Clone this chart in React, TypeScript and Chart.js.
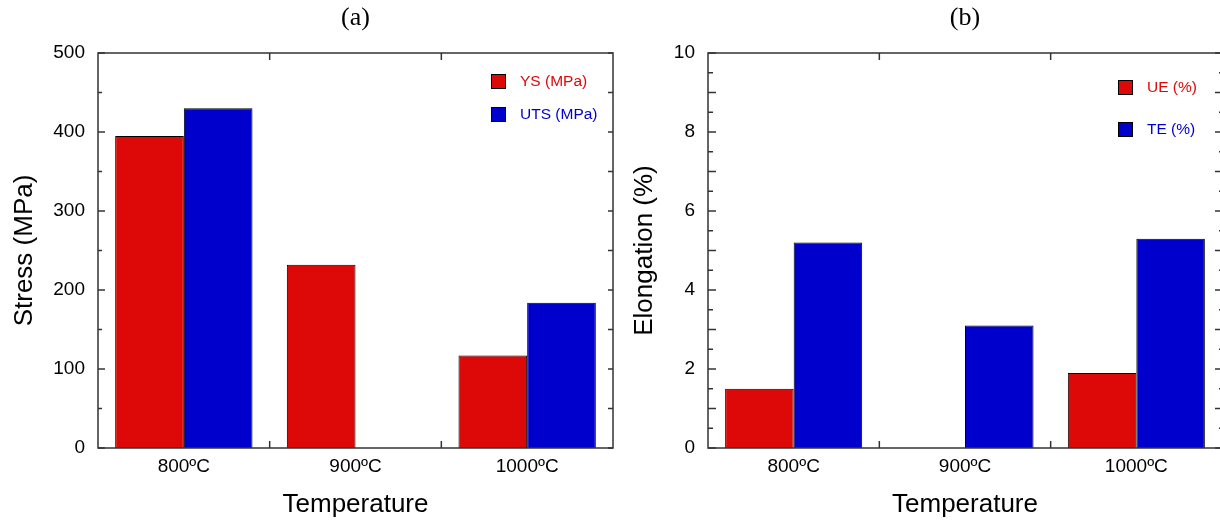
import React, { useEffect, useRef } from 'react';
import { Chart, registerables } from 'chart.js';

Chart.register(...registerables);

const categories = ['800ºC', '900ºC', '1000ºC'];

const stressLabels = ['YS (MPa)', 'UTS (MPa)'];
const ysValues: (number | null)[] = [395, 232, 117];
const utsValues: (number | null)[] = [430, null, 184];

const elongLabels = ['UE (%)', 'TE (%)'];
const ueValues: (number | null)[] = [1.5, null, 1.9];
const teValues: (number | null)[] = [5.2, 3.1, 5.3];

const stressAxis = { min: 0, max: 500, step: 100 };
const elongAxis = { min: 0, max: 10, step: 2 };

const RED = '#DD0808';
const BLUE = '#0000CC';
const SANS = "'Liberation Sans', Arial, sans-serif";
const SERIF = "'Liberation Serif', 'Times New Roman', serif";

type TickOpts = {
  leftStep: number;
  leftMajor: number;
  leftMajorLen: number;
  leftMinorLen: number;
  rightStep: number;
  rightMajor: number;
  rightMajorLen: number;
  rightMinorLen: number;
  legendDx: number;
  legendDy: number;
  legendGap: number;
};

const framePlugin = {
  id: 'frameTicks',
  afterDatasetsDraw(chart: any, _args: any, opts: TickOpts) {
    const { ctx, chartArea } = chart;
    const { left, right, top, bottom } = chartArea;
    const ys = chart.scales.y;
    const xs = chart.scales.x;
    ctx.save();
    ctx.strokeStyle = '#333333';
    ctx.lineWidth = 1.5;
    const line = (x1: number, y1: number, x2: number, y2: number) => {
      ctx.beginPath();
      ctx.moveTo(x1, y1);
      ctx.lineTo(x2, y2);
      ctx.stroke();
    };
    const isMult = (v: number, m: number) => Math.abs(v / m - Math.round(v / m)) < 1e-6;
    const nL = Math.round((ys.max - ys.min) / opts.leftStep);
    for (let i = 0; i <= nL; i++) {
      const v = ys.min + i * opts.leftStep;
      const py = ys.getPixelForValue(v);
      const len = isMult(v, opts.leftMajor) ? opts.leftMajorLen : opts.leftMinorLen;
      line(left, py, left + len, py);
    }
    const nR = Math.round((ys.max - ys.min) / opts.rightStep);
    for (let i = 0; i <= nR; i++) {
      const v = ys.min + i * opts.rightStep;
      const py = ys.getPixelForValue(v);
      const len = isMult(v, opts.rightMajor) ? opts.rightMajorLen : opts.rightMinorLen;
      line(right, py, right - len, py);
    }
    const n = chart.data.labels.length;
    for (let i = 0; i < n - 1; i++) {
      const px = (xs.getPixelForValue(i) + xs.getPixelForValue(i + 1)) / 2;
      line(px, bottom, px, bottom - 7);
      line(px, top, px, top + 7);
    }
    ctx.strokeRect(left, top, right - left, bottom - top);

    // legend inside the plot area
    const box = 15;
    chart.data.datasets.forEach((ds: any, i: number) => {
      const bx = right - opts.legendDx;
      const by = top + opts.legendDy + i * opts.legendGap;
      ctx.fillStyle = ds.backgroundColor;
      ctx.fillRect(bx, by, box, box);
      ctx.strokeStyle = '#000';
      ctx.lineWidth = 1;
      ctx.strokeRect(bx + 0.5, by + 0.5, box - 1, box - 1);
      ctx.fillStyle = ds.backgroundColor;
      ctx.font = `15.5px ${SANS}`;
      ctx.textAlign = 'left';
      ctx.textBaseline = 'middle';
      ctx.fillText(ds.label, bx + box + 14, by + box / 2 + 0.5);
    });
    ctx.restore();
  },
};

function makeConfig(
  title: string,
  yTitle: string,
  labels: string[],
  a: (number | null)[],
  b: (number | null)[],
  axis: { min: number; max: number; step: number },
  yWidth: number,
  rightPad: number,
  ticks: TickOpts
): any {
  return {
    type: 'bar',
    data: {
      labels: categories,
      datasets: [
        {
          label: labels[0],
          data: a,
          backgroundColor: RED,
          borderColor: '#000',
          borderWidth: 1,
          categoryPercentage: 0.8,
          barPercentage: 1.0,
        },
        {
          label: labels[1],
          data: b,
          backgroundColor: BLUE,
          borderColor: '#000',
          borderWidth: 1,
          categoryPercentage: 0.8,
          barPercentage: 1.0,
        },
      ],
    },
    options: {
      responsive: false,
      animation: false,
      layout: { padding: { left: 0, right: rightPad, top: 0, bottom: 0 } },
      plugins: {
        legend: { display: false },
        tooltip: { enabled: false },
        title: {
          display: true,
          text: title,
          fullSize: false,
          color: '#000',
          font: { family: SERIF, size: 26, weight: 'normal', lineHeight: 1.2 },
          padding: { top: 3, bottom: 18.8 },
        },
        frameTicks: ticks,
      },
      scales: {
        x: {
          type: 'category',
          grid: { display: false, drawTicks: false },
          border: { display: false },
          ticks: { color: '#000', font: { family: SANS, size: 19 }, padding: 7, maxRotation: 0 },
          title: {
            display: true,
            text: 'Temperature',
            color: '#000',
            font: { family: SANS, size: 26 },
            padding: { top: 0, bottom: 0 },
          },
          afterFit: (s: any) => {
            s.height = 72;
          },
        },
        y: {
          min: axis.min,
          max: axis.max,
          grid: { display: false, drawTicks: false },
          border: { display: false },
          ticks: { stepSize: axis.step, color: '#000', font: { family: SANS, size: 19 }, padding: 13 },
          title: {
            display: true,
            text: yTitle,
            color: '#000',
            font: { family: SANS, size: 26 },
            padding: { top: 9, bottom: 0 },
          },
          afterFit: (s: any) => {
            s.width = yWidth;
          },
        },
      },
    },
    plugins: [framePlugin],
  };
}

export default function App() {
  const leftRef = useRef<HTMLCanvasElement | null>(null);
  const rightRef = useRef<HTMLCanvasElement | null>(null);

  useEffect(() => {
    const c1 = new Chart(
      leftRef.current as HTMLCanvasElement,
      makeConfig('(a)', 'Stress (MPa)', stressLabels, ysValues, utsValues, stressAxis, 98, 7, {
        leftStep: 50,
        leftMajor: 100,
        leftMajorLen: 7,
        leftMinorLen: 4,
        rightStep: 50,
        rightMajor: 100,
        rightMajorLen: 5,
        rightMinorLen: 5,
        legendDx: 122,
        legendDy: 21,
        legendGap: 33,
      })
    );
    const c2 = new Chart(
      rightRef.current as HTMLCanvasElement,
      makeConfig('(b)', 'Elongation (%)', elongLabels, ueValues, teValues, elongAxis, 88, 2, {
        leftStep: 0.5,
        leftMajor: 1,
        leftMajorLen: 8,
        leftMinorLen: 5,
        rightStep: 0.5,
        rightMajor: 1,
        rightMajorLen: 7,
        rightMinorLen: 3,
        legendDx: 104,
        legendDy: 27,
        legendGap: 42,
      })
    );
    return () => {
      c1.destroy();
      c2.destroy();
    };
  }, []);

  return (
    <div
      style={{
        position: 'fixed',
        left: 0,
        top: 0,
        width: 1220,
        height: 520,
        overflow: 'hidden',
        background: '#fff',
      }}
    >
      <canvas
        ref={leftRef}
        width={620}
        height={520}
        style={{ position: 'absolute', left: 0, top: 0, width: 620, height: 520 }}
      />
      <canvas
        ref={rightRef}
        width={604}
        height={520}
        style={{ position: 'absolute', left: 620, top: 0, width: 604, height: 520 }}
      />
    </div>
  );
}
